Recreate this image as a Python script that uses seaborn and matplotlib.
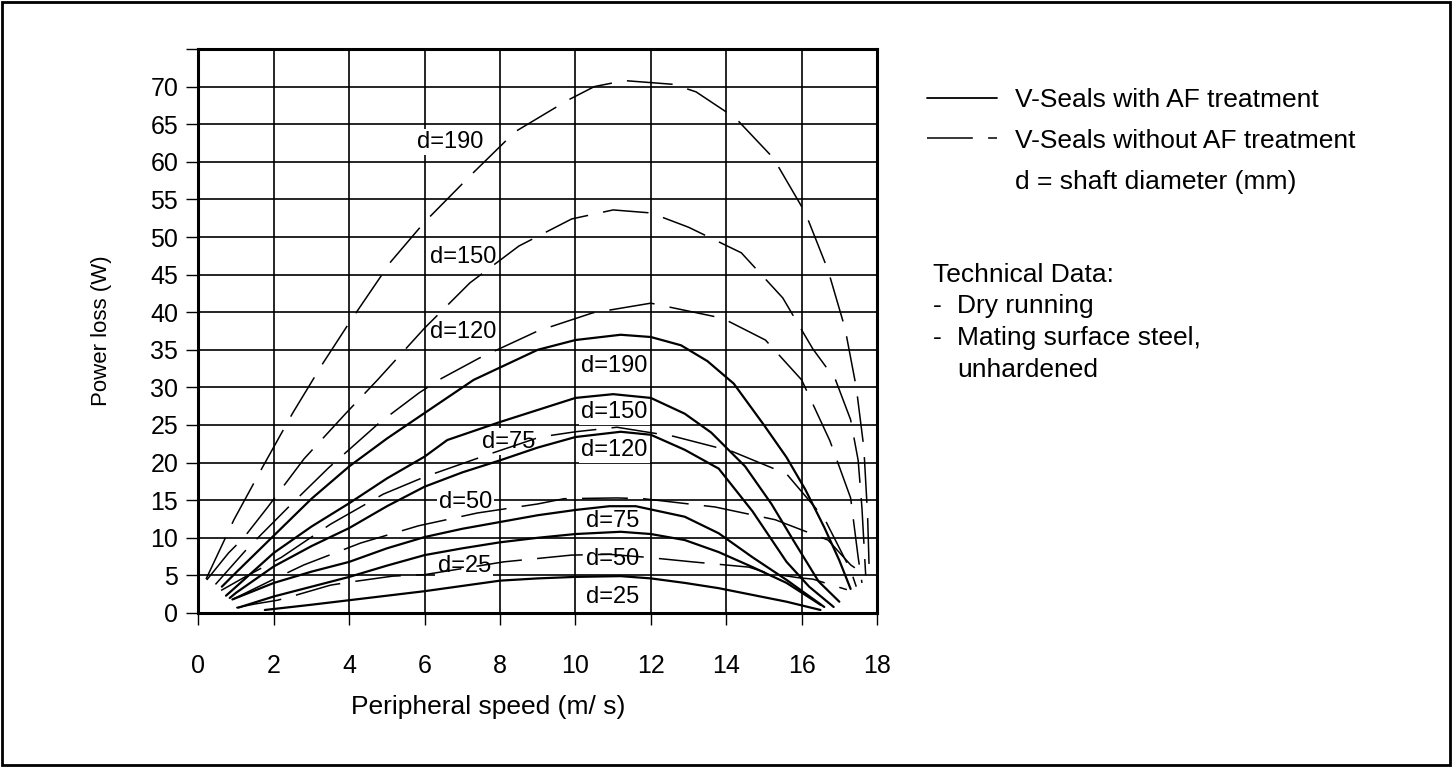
import pandas as pd
import seaborn as sns
import matplotlib.pyplot as plt
from matplotlib.lines import Line2D
from matplotlib.patches import Rectangle

# Values: peripheral speed (m/s) vs power loss (W)
# V-Seals with AF treatment (solid curves)
af_190_speed = [0.62, 1.0, 2.0, 3.0, 4.0, 5.0, 6.0, 7.3, 9.0, 10.0, 11.2, 12.0, 12.8, 13.5, 14.2, 15.0, 15.6, 16.1, 16.6, 17.0, 17.3]
af_190_loss = [3.5, 5.4, 10.3, 15.2, 19.5, 23.2, 26.6, 31.0, 35.0, 36.3, 37.0, 36.7, 35.6, 33.5, 30.5, 25.0, 20.7, 16.4, 11.4, 7.0, 3.2]
af_150_speed = [0.73, 1.0, 2.0, 3.0, 4.0, 5.0, 6.0, 6.6, 8.0, 10.0, 11.0, 12.0, 12.9, 13.6, 14.5, 15.2, 15.8, 16.45, 17.0]
af_150_loss = [2.3, 3.5, 8.0, 11.5, 14.6, 17.9, 20.8, 23.0, 25.4, 28.6, 29.1, 28.6, 26.5, 24.0, 19.5, 14.5, 9.5, 4.2, 1.5]
af_120_speed = [0.83, 1.0, 2.0, 3.0, 4.0, 5.0, 6.0, 7.0, 8.0, 9.0, 10.0, 11.2, 12.0, 12.9, 13.8, 14.7, 15.6, 16.2, 16.85]
af_120_loss = [2.0, 2.7, 6.2, 8.9, 11.3, 14.2, 16.8, 18.7, 20.3, 22.0, 23.4, 24.1, 23.7, 21.7, 19.2, 13.5, 6.8, 3.5, 0.8]
af_75_speed = [0.9, 2.0, 3.0, 4.0, 5.0, 6.0, 7.0, 8.0, 9.0, 10.0, 10.9, 11.6, 12.9, 13.8, 14.7, 15.6, 16.6]
af_75_loss = [1.8, 4.0, 5.5, 6.8, 8.6, 10.1, 11.2, 12.1, 13.0, 13.7, 14.2, 14.2, 12.8, 10.6, 7.4, 4.4, 0.8]
af_50_speed = [1.05, 2.0, 3.0, 4.0, 5.0, 6.0, 7.0, 8.0, 9.0, 10.0, 11.2, 12.0, 12.9, 13.8, 14.7, 15.6, 16.5]
af_50_loss = [0.7, 2.2, 3.5, 4.8, 6.3, 7.7, 8.6, 9.4, 10.0, 10.5, 10.8, 10.5, 9.7, 8.1, 6.1, 4.0, 1.1]
af_25_speed = [1.76, 3.0, 4.0, 5.0, 6.0, 7.0, 8.0, 9.0, 10.0, 11.2, 12.0, 12.9, 13.8, 14.7, 15.6, 16.5]
af_25_loss = [0.4, 1.1, 1.7, 2.3, 2.9, 3.6, 4.3, 4.6, 4.8, 4.9, 4.6, 4.0, 3.3, 2.4, 1.5, 0.4]

# V-Seals without AF treatment (dashed curves)
noaf_190_speed = [0.2, 0.94, 1.7, 2.5, 3.3, 4.0, 5.1, 6.0, 7.3, 8.4, 9.8, 10.5, 11.3, 12.6, 13.2, 14.25, 15.25, 16.1, 16.7, 17.15, 17.45, 17.65, 17.75, 17.8]
noaf_190_loss = [4.5, 12.4, 19.4, 26.6, 33.2, 38.6, 46.7, 52.0, 58.6, 64.0, 68.2, 70.0, 70.8, 70.3, 69.3, 65.8, 60.5, 53.2, 45.6, 37.9, 30.0, 22.0, 13.0, 4.5]
noaf_150_speed = [0.22, 0.8, 1.2, 1.84, 2.8, 3.9, 4.75, 6.0, 7.2, 8.5, 9.9, 11.0, 12.0, 13.0, 14.4, 15.5, 16.3, 16.9, 17.3, 17.5, 17.6, 17.7]
noaf_150_loss = [4.4, 8.0, 10.0, 14.1, 20.5, 26.5, 31.0, 37.9, 43.9, 48.8, 52.4, 53.6, 53.2, 51.3, 47.9, 41.9, 35.1, 31.0, 25.7, 20.3, 14.0, 5.0]
noaf_120_speed = [0.45, 1.3, 2.45, 3.45, 4.8, 5.86, 6.45, 7.45, 9.0, 10.45, 12.0, 13.9, 15.04, 16.0, 16.75, 17.3, 17.5, 17.6]
noaf_120_loss = [3.8, 8.6, 14.4, 19.3, 25.3, 29.3, 31.2, 33.9, 37.5, 39.9, 41.2, 39.2, 36.3, 31.0, 22.9, 15.3, 7.4, 4.0]
noaf_75_speed = [0.6, 1.2, 2.2, 3.5, 4.9, 6.0, 7.7, 9.06, 10.0, 11.1, 12.6, 14.15, 15.6, 16.6, 17.3, 17.45]
noaf_75_loss = [3.0, 4.7, 7.4, 11.8, 15.8, 18.1, 21.1, 23.4, 24.1, 24.7, 23.5, 21.5, 18.5, 12.6, 5.7, 3.5]
noaf_50_speed = [0.9, 2.0, 2.8, 4.3, 5.84, 7.4, 9.0, 9.7, 11.1, 11.8, 13.7, 15.3, 16.7, 17.3, 17.7]
noaf_50_loss = [1.8, 4.5, 6.4, 9.3, 11.6, 13.3, 14.5, 15.2, 15.3, 15.2, 14.1, 12.4, 9.7, 6.4, 5.0]
noaf_25_speed = [1.0, 1.5, 2.1, 2.4, 3.5, 4.0, 5.15, 6.0, 8.1, 9.9, 10.9, 11.9, 13.1, 14.6, 15.1, 15.9, 16.3, 17.2]
noaf_25_loss = [0.7, 1.2, 1.7, 2.1, 3.7, 4.1, 4.9, 5.1, 6.8, 7.7, 7.8, 7.4, 6.8, 6.1, 5.3, 4.7, 4.5, 3.1]

diameters = [190, 150, 120, 75, 50, 25]

af_curves = {190: (af_190_speed, af_190_loss), 150: (af_150_speed, af_150_loss),
             120: (af_120_speed, af_120_loss), 75: (af_75_speed, af_75_loss),
             50: (af_50_speed, af_50_loss), 25: (af_25_speed, af_25_loss)}
noaf_curves = {190: (noaf_190_speed, noaf_190_loss), 150: (noaf_150_speed, noaf_150_loss),
               120: (noaf_120_speed, noaf_120_loss), 75: (noaf_75_speed, noaf_75_loss),
               50: (noaf_50_speed, noaf_50_loss), 25: (noaf_25_speed, noaf_25_loss)}

# where the "d=..." labels sit on the chart
af_label_pos = {190: (11.03, 32.8), 150: (11.03, 26.7), 120: (11.03, 21.7),
                75: (10.99, 12.2), 50: (10.99, 7.2), 25: (10.99, 2.06)}
noaf_label_pos = {190: (6.67, 62.6), 150: (7.01, 47.4), 120: (7.02, 37.4),
                  75: (8.24, 22.8), 50: (7.08, 14.8), 25: (7.05, 6.25)}


def to_frame(curves):
    parts = []
    for d, (xs, ys) in curves.items():
        parts.append(pd.DataFrame({'speed': xs, 'loss': ys, 'd': d}))
    return pd.concat(parts, ignore_index=True)


df_af = to_frame(af_curves)
df_noaf = to_frame(noaf_curves)

sns.set_style('white')
plt.rcParams['font.family'] = ['Liberation Sans', 'DejaVu Sans']
plt.rcParams['text.color'] = 'black'
plt.rcParams['axes.labelcolor'] = 'black'

fig = plt.figure(figsize=(14.52, 7.67), dpi=100)
ax = fig.add_axes([0.1367, 0.2008, 0.4673, 0.7353])

sns.lineplot(data=df_af, x='speed', y='loss', units='d', estimator=None, sort=False,
             color='black', lw=1.6, ax=ax, legend=False, zorder=3)
sns.lineplot(data=df_noaf, x='speed', y='loss', units='d', estimator=None, sort=False,
             color='black', lw=1.1, linestyle=(0, (30, 10)), ax=ax, legend=False, zorder=3)

# curve labels with white boxes that hide the grid behind them
for d in diameters:
    for (x, y) in (af_label_pos[d], noaf_label_pos[d]):
        ax.text(x, y, f'd={d}', fontsize=17, ha='center', va='center', zorder=2,
                color='black', bbox=dict(facecolor='white', edgecolor='none', pad=1.5))

ax.set_xlim(0, 18)
ax.set_ylim(0, 75)
ax.set_xticks(range(0, 19, 2))
ax.set_yticks(range(0, 76, 5))
ax.set_yticklabels([str(v) for v in range(0, 71, 5)] + [''])
ax.grid(True, color='black', lw=1.2)
ax.set_axisbelow(True)
ax.tick_params(bottom=True, left=True, direction='out', length=8.6, width=1,
               color='black', labelsize=18, labelcolor='black')
ax.tick_params(axis='x', pad=21)
ax.tick_params(axis='y', pad=6)
for s in ax.spines.values():
    s.set_linewidth(2.2)
    s.set_color('black')

ax.set_xlabel('Peripheral speed (m/ s)', fontsize=19)
ax.set_ylabel('Power loss (W)', fontsize=16)
ax.xaxis.set_label_coords(0.427, -0.145)
ax.yaxis.set_label_coords(-0.128, 0.5)

# key on the right
handles = [Line2D([], [], color='black', lw=1.3),
           Line2D([], [], color='black', lw=1.1, linestyle=(0, (30, 10))),
           Line2D([], [], color='none')]
labels = ['V-Seals with AF treatment', 'V-Seals without AF treatment', 'd = shaft diameter (mm)']
fig.legend(handles, labels, loc='upper left', bbox_to_anchor=(927 / 1452, 0.8855),
           frameon=False, fontsize=19, handlelength=2.65, handletextpad=0.68,
           labelspacing=0.64, borderpad=0, borderaxespad=0)

fig.text(933 / 1452, 1 - 282 / 767, 'Technical Data:', fontsize=19, va='baseline')
notes = ['Dry running', 'Mating surface steel,', 'unhardened']
for i, line in enumerate(notes):
    yb = 1 - (313 + 32 * i) / 767
    if i < 2:
        fig.text(933 / 1452, yb, '-', fontsize=19, va='baseline')
    fig.text(957 / 1452, yb, line, fontsize=19, va='baseline')

fig.patches.append(Rectangle((0.0015, 0.0025), 0.997, 0.995, transform=fig.transFigure,
                             fill=False, edgecolor='black', lw=2))

fig.savefig('out.png', dpi=100)
